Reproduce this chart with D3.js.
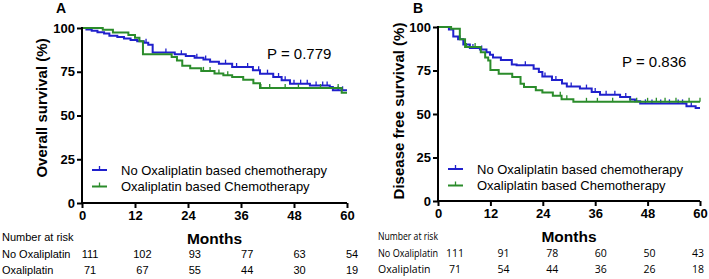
<!DOCTYPE html>
<html>
<head>
<meta charset="utf-8">
<script src="https://cdn.jsdelivr.net/npm/d3@7"></script>
<style>
  body { margin: 0; background: #fff; }
  svg { display: block; font-family: "Liberation Sans", Arial, sans-serif; }
</style>
</head>
<body>
<div id="chart"></div>
<script>
// Kaplan-Meier curves: [month, survival %]
const monthTicks = [0, 12, 24, 36, 48, 60];
const pctTicks = [0, 25, 50, 75, 100];
const seriesNames = ["No Oxaliplatin based chemotherapy", "Oxaliplatin based Chemotherapy"];
const riskRowNames = ["No Oxaliplatin", "Oxaliplatin"];

// Panel A - overall survival
const osNoOxa = [[0,100],[1,99.2],[2.2,98.4],[3.5,97.6],[5,96.8],[6.2,95.6],[8,94.8],[9.5,94],[11,93.2],
  [12.5,92.4],[14,91.6],[15,90.5],[16,86],[21,85],[23.5,84],[25.5,83],[27.5,82],[29,80.7],[31,79.6],
  [34,77.7],[38.7,75.8],[40.3,73.9],[43.3,72],[45.2,70.1],[47.1,68.2],[51.6,67.2],[56.1,66.3],[56.8,64.4]];
const osOxa = [[0,100],[4.7,99],[7,97.5],[10.5,96],[12,94.5],[13,92.5],[13.8,85],[20.3,83.5],[21.5,81.5],
  [22.7,78.5],[24.5,77],[27,75.5],[30,74],[32,73],[34,72],[36.5,70.5],[38.8,68.5],[40.3,65.7],[58.8,63]];
const osNoOxaCensor = [13, 14.5, 19, 22.5, 26, 28, 32.5, 35, 37.5, 40, 42, 44.5, 46, 48, 49.5, 51, 53, 54.5, 55.5, 58, 59];
const osOxaCensor = [27.5, 29, 31, 33, 40.5, 42.5, 46, 49, 54, 58];
const osRiskNoOxa = [111, 102, 93, 77, 63, 54];
const osRiskOxa = [71, 67, 55, 44, 30, 19];

// Panel B - disease free survival
const dfsNoOxa = [[0,100],[2.5,98.5],[3.5,94.5],[4.6,93],[5.8,90],[7.3,88],[9.6,87],[11.1,85.5],[11.9,84],
  [12.6,82.5],[14.4,81],[16.9,78.5],[18,78],[21.9,76],[23.1,74.1],[23.9,71.5],[26.1,69.5],[28.4,67.6],
  [29.5,65.8],[32.5,64.6],[35.2,62.6],[37.1,61],[41.7,59.8],[44,58.4],[45.1,57.3],[46.3,56.1],[56.9,54.5],[59,53.5]];
const dfsOxa = [[0,100],[3,99],[5,93],[6.2,88.5],[9.8,85.5],[10.8,82.5],[11.5,80.8],[12,75.3],[13.9,73.2],
  [17,71.3],[18.9,67.4],[19.7,65.5],[22.4,63.6],[23.9,62.4],[26.3,60.5],[28.3,58.5],[31,57]];
const dfsNoOxaCensor = [5, 8, 10, 20, 24.5, 27, 30.5, 34, 36, 38.5, 40.5, 43, 47.5, 49, 51, 53, 55, 56, 58];
const dfsOxaCensor = [6.5, 8.5, 28, 29.5, 34, 36.5, 40, 44, 45.5, 48, 50, 52, 54.5, 57.5, 60];
const dfsRiskNoOxa = [111, 91, 78, 60, 50, 43];
const dfsRiskOxa = [71, 54, 44, 36, 26, 18];

const colors = ["#2020cc", "#2b8c2b"];

const svg = d3.select("#chart").append("svg")
  .attr("width", 709).attr("height", 279);

function drawPanel(p) {
  const x = d3.scaleLinear().domain([0, 60]).range([p.left, p.right]);
  const y = d3.scaleLinear().domain([0, 100]).range([p.bottom, p.top]);
  const g = svg.append("g");

  // curves
  const line = d3.line().x(d => x(d[0])).y(d => y(d[1])).curve(d3.curveStepAfter);
  p.curves.forEach((c, i) => {
    const pts = c.slice();
    pts.push([60, c[c.length - 1][1]]);
    g.append("path").attr("d", line(pts))
      .attr("fill", "none").attr("stroke", colors[i]).attr("stroke-width", 2);

    const at = t => { let v = 100; c.forEach(d => { if (d[0] <= t) v = d[1]; }); return v; };
    g.selectAll(null).data(p.censors[i]).enter().append("line")
      .attr("x1", t => x(t)).attr("x2", t => x(t))
      .attr("y1", t => y(at(t)) - 4).attr("y2", t => y(at(t)))
      .attr("stroke", colors[i]).attr("stroke-width", 1.3);
  });

  // axes
  const ax = g.append("g").attr("transform", `translate(0,${p.bottom})`)
    .call(d3.axisBottom(x).tickValues(monthTicks).tickSize(5).tickPadding(3));
  const ay = g.append("g").attr("transform", `translate(${p.left},0)`)
    .call(d3.axisLeft(y).tickValues(pctTicks).tickSize(5).tickPadding(2));
  [ax, ay].forEach(a => {
    a.select(".domain").attr("stroke", "#000").attr("stroke-width", 2);
    a.selectAll(".tick line").attr("stroke", "#000").attr("stroke-width", 2);
    a.selectAll(".tick text").attr("fill", "#000")
      .style("font-size", "13px").style("font-weight", "bold")
      .style("font-family", "'Liberation Sans', Arial, sans-serif");
  });
  ay.select(".domain").attr("d", `M0,${p.bottom}V${p.top - 1}`);
  ax.select(".domain").attr("d", `M${p.left},0H${p.right}`);

  // panel letter
  g.append("text").attr("x", p.letterX).attr("y", 13)
    .style("font-size", "14px").style("font-weight", "bold").text(p.letter);

  // y label
  g.append("text")
    .attr("transform", `translate(${p.ylabX},${p.ylabY}) rotate(-90)`)
    .attr("text-anchor", "middle")
    .style("font-size", "15px").style("font-weight", "bold").text(p.ylabel);

  // x label
  g.append("text").attr("x", (p.left + p.right) / 2).attr("y", p.monthsY)
    .attr("text-anchor", "middle")
    .style("font-size", "15.5px").style("font-weight", "bold").text("Months");

  // p value
  g.append("text").attr("x", p.pX).attr("y", p.pY)
    .style("font-size", "15px").text(p.pText);

  // legend
  seriesNames.forEach((name, i) => {
    const ly = p.legY + i * 16.5;
    g.append("line").attr("x1", p.legX).attr("x2", p.legX + 15)
      .attr("y1", ly).attr("y2", ly).attr("stroke", colors[i]).attr("stroke-width", 2);
    g.append("line").attr("x1", p.legX + 7.5).attr("x2", p.legX + 7.5)
      .attr("y1", ly - 4).attr("y2", ly).attr("stroke", colors[i]).attr("stroke-width", 1.3);
    g.append("text").attr("x", p.legX + 29).attr("y", ly + 4.5)
      .style("font-size", "13px").text(name);
  });

  // number at risk table
  const nx = d3.scaleLinear().domain([0, 60]).range(p.riskRange);
  const label = (txt, yy) => {
    const t = g.append("text").attr("x", p.riskLabelX).attr("y", yy)
      .style("font-family", p.riskFont).style("font-size", p.riskSize).text(txt);
    const w = t.node().getComputedTextLength();
    if (w > p.riskLabelMax) t.attr("textLength", p.riskLabelMax).attr("lengthAdjust", "spacingAndGlyphs");
  };
  label("Number at risk", p.riskY);
  p.risk.forEach((row, r) => {
    const ry = p.riskY + 16.5 * (r + 1);
    label(riskRowNames[r], ry);
    g.selectAll(null).data(row).enter().append("text")
      .attr("x", (d, i) => nx(monthTicks[i])).attr("y", ry)
      .attr("text-anchor", "middle")
      .style("font-family", p.riskFont).style("font-size", p.riskSize)
      .text(d => d);
  });
}

drawPanel({
  left: 82, right: 347, top: 28, bottom: 203,
  curves: [osNoOxa, osOxa], censors: [osNoOxaCensor, osOxaCensor],
  letter: "A", letterX: 56,
  ylabel: "Overall survival (%)", ylabX: 47, ylabY: 108,
  monthsY: 244, pText: "P = 0.779", pX: 267, pY: 59,
  legX: 92, legY: 170,
  risk: [osRiskNoOxa, osRiskOxa], riskRange: [90, 352], riskLabelX: 2, riskY: 241, riskLabelMax: 80,
  riskFont: "'Liberation Sans', Arial, sans-serif", riskSize: "11px"
});

drawPanel({
  left: 438, right: 700, top: 27, bottom: 201,
  curves: [dfsNoOxa, dfsOxa], censors: [dfsNoOxaCensor, dfsOxaCensor],
  letter: "B", letterX: 413,
  ylabel: "Disease free survival (%)", ylabX: 404, ylabY: 111,
  monthsY: 242, pText: "P = 0.836", pX: 622, pY: 67,
  legX: 448, legY: 169,
  risk: [dfsRiskNoOxa, dfsRiskOxa], riskRange: [455, 698], riskLabelX: 378, riskY: 240, riskLabelMax: 60,
  riskFont: "'Open Sans', 'Noto Sans', sans-serif", riskSize: "10.5px"
});
</script>
</body>
</html>
